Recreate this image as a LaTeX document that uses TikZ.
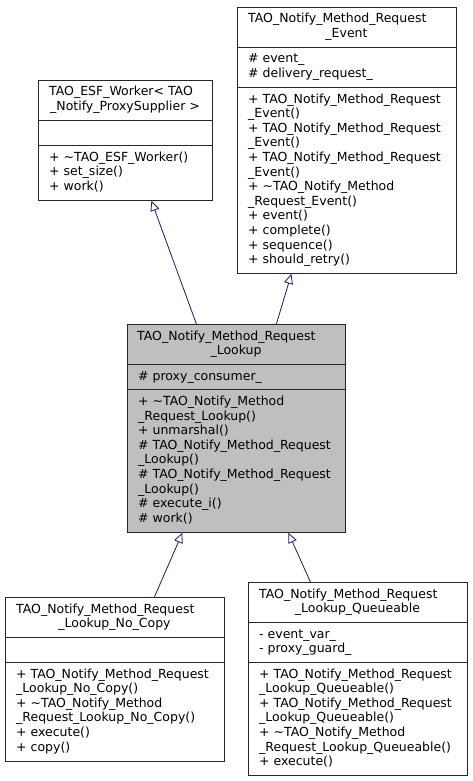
\documentclass[tikz,border=0pt]{standalone}
\usepackage{fontspec}
\setmainfont{DejaVu Sans}
\usetikzlibrary{arrows.meta}
\definecolor{edgeblue}{RGB}{25,25,112}
\tikzset{
  classbox/.style = {draw=black!85,line width=0.8pt,anchor=north west,inner sep=0pt,fill=white},
  member/.style = {anchor=base west,inner sep=0pt,font=\fontsize{12.5}{14.6}\selectfont},
  classname/.style = {anchor=base,inner sep=0pt,font=\fontsize{12.5}{14.6}\selectfont},
  inherit/.style = {draw=edgeblue,line width=0.8pt,-{Triangle[open,length=10pt,width=9pt]}}
}
\tikzset{>=latex}

\begin{document}
\begin{tikzpicture}[x=1pt,y=-1pt]
  \useasboundingbox (0,0) rectangle (472,781);
  \def\Pitch{14.6}
  % worker
  \node[classbox,minimum width=174pt,minimum height=120pt] (worker) at (38,80) {};
  \draw[black!85,line width=0.8pt] (38,120)--(212,120) (38,145)--(212,145);
  \node[member] (worker-t1) at (49,96) {TAO\_ESF\_Worker< TAO};
  \node[classname] (worker-t2) at (125,110.6) {\_Notify\_ProxySupplier >};
  \foreach \t [count=\i] in {+ \textasciitilde TAO\_ESF\_Worker(), + set\_size(), + work()} {
    \node[member] (worker-m\i) at (49,{161+(\i-1)*\Pitch}) {\t};
  }
  % event
  \node[classbox,minimum width=219pt,minimum height=266pt] (event) at (237,7) {};
  \draw[black!85,line width=0.8pt] (237,47)--(456,47) (237,87)--(456,87);
  \node[member] (event-t1) at (248,23) {TAO\_Notify\_Method\_Request};
  \node[classname] (event-t2) at (346.5,37.6) {\_Event};
  \foreach \t [count=\i] in {\# event\_, \# delivery\_request\_} {
    \node[member] (event-a\i) at (248,{63+(\i-1)*\Pitch}) {\t};
  }
  \foreach \t [count=\i] in {+ TAO\_Notify\_Method\_Request, \_Event(), + TAO\_Notify\_Method\_Request, \_Event(),
      + TAO\_Notify\_Method\_Request, \_Event(), + \textasciitilde TAO\_Notify\_Method, \_Request\_Event(),
      + event(), + complete(), + sequence(), + should\_retry()} {
    \node[member] (event-m\i) at (248,{103+(\i-1)*\Pitch}) {\t};
  }
  % lookup
  \node[classbox,fill=black!25,minimum width=218pt,minimum height=208pt] (lookup) at (127,324) {};
  \draw[black!85,line width=0.8pt] (127,364)--(345,364) (127,389.5)--(345,389.5);
  \node[member] (lookup-t1) at (137,340) {TAO\_Notify\_Method\_Request};
  \node[classname] (lookup-t2) at (236,354.6) {\_Lookup};
  \node[member] (lookup-a1) at (138,380) {\# proxy\_consumer\_};
  \foreach \t [count=\i] in {+ \textasciitilde TAO\_Notify\_Method, \_Request\_Lookup(), + unmarshal(),
      \# TAO\_Notify\_Method\_Request, \_Lookup(), \# TAO\_Notify\_Method\_Request, \_Lookup(),
      \# execute\_i(), \# work()} {
    \node[member] (lookup-m\i) at (138,{405.5+(\i-1)*\Pitch}) {\t};
  }
  % no copy
  \node[classbox,minimum width=219pt,minimum height=163.5pt] (nocopy) at (5,597) {};
  \draw[black!85,line width=0.8pt] (5,637)--(224,637) (5,662)--(224,662);
  \node[member] (nocopy-t1) at (16,613) {TAO\_Notify\_Method\_Request};
  \node[classname] (nocopy-t2) at (114.5,627.6) {\_Lookup\_No\_Copy};
  \foreach \t [count=\i] in {+ TAO\_Notify\_Method\_Request, \_Lookup\_No\_Copy(), + \textasciitilde TAO\_Notify\_Method,
      \_Request\_Lookup\_No\_Copy(), + execute(), + copy()} {
    \node[member] (nocopy-m\i) at (16,{678+(\i-1)*\Pitch}) {\t};
  }
  % queueable
  \node[classbox,minimum width=219pt,minimum height=193pt] (queue) at (248,582) {};
  \draw[black!85,line width=0.8pt] (248,622)--(467,622) (248,662)--(467,662);
  \node[member] (queue-t1) at (259,598) {TAO\_Notify\_Method\_Request};
  \node[classname] (queue-t2) at (357.5,612.6) {\_Lookup\_Queueable};
  \foreach \t [count=\i] in {- event\_var\_, - proxy\_guard\_} {
    \node[member] (queue-a\i) at (259,{638+(\i-1)*\Pitch}) {\t};
  }
  \foreach \t [count=\i] in {+ TAO\_Notify\_Method\_Request, \_Lookup\_Queueable(), + TAO\_Notify\_Method\_Request,
      \_Lookup\_Queueable(), + \textasciitilde TAO\_Notify\_Method, \_Request\_Lookup\_Queueable(), + execute()} {
    \node[member] (queue-m\i) at (259,{678+(\i-1)*\Pitch}) {\t};
  }
  % inheritance
  \draw[inherit] ([xshift=-40pt]lookup.north) -- ([xshift=26pt]worker.south);
  \draw[inherit] ([xshift=40pt]lookup.north) -- ([xshift=-55.5pt]event.south);
  \draw[inherit] ([xshift=39.5pt]nocopy.north) -- ([xshift=-54pt]lookup.south);
  \draw[inherit] ([xshift=-47.5pt]queue.north) -- ([xshift=52pt]lookup.south);
\end{tikzpicture}
\end{document}
